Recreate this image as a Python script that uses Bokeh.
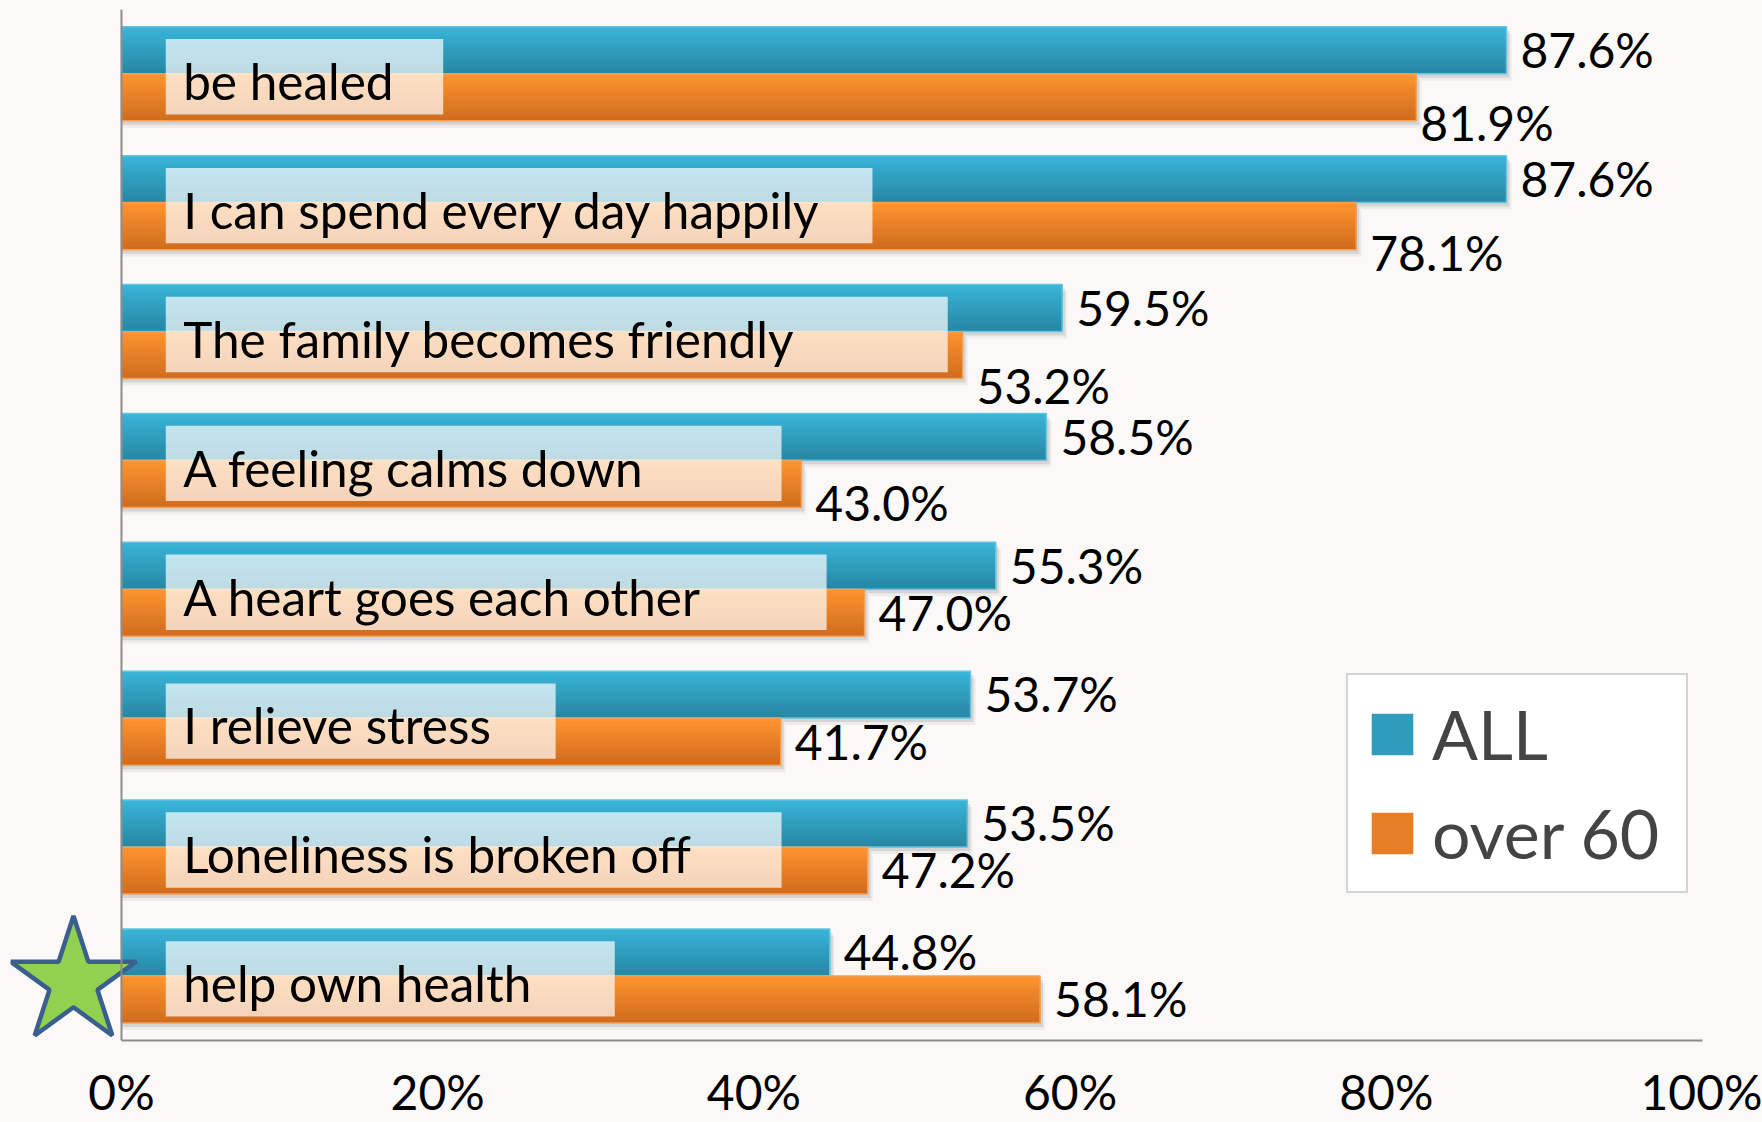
import numpy as np
from bokeh.plotting import figure
from bokeh.models import (Range1d, FixedTicker, PrintfTickFormatter, Span,
                          Legend, LegendItem, ColumnDataSource)
from bokeh.core.properties import value
from bokeh.embed import file_html
from bokeh.resources import INLINE

# ---------------- data ----------------
categories = [
    "be healed",
    "I can spend every day happily",
    "The family becomes friendly",
    "A feeling calms down",
    "A heart goes each other",
    "I relieve stress",
    "Loneliness is broken off",
    "help own health",
]
all_pct = [87.6, 87.6, 59.5, 58.5, 55.3, 53.7, 53.5, 44.8]
over60_pct = [81.9, 78.1, 53.2, 43.0, 47.0, 41.7, 47.2, 58.1]
series_names = ["ALL", "over 60"]
x_ticks = [0, 20, 40, 60, 80, 100]

# ---------------- styling / layout ----------------
label_box_end = [20.35, 47.5, 52.26, 41.75, 44.6, 27.46, 41.75, 31.2]  # % where each label panel ends
orange_label_drop_px = [26, 27, 31, 19, 0, 0, 0, 0]
orange_label_nudge_px = [-10, 0, 0, 0, 0, 0, 0, 0]

BG = "#FAF9F7"
FONT = "Lato"
CAT_FS = 49.5
VAL_FS = 48
W, H = 1762, 1122
BL, BR, BT, BB = 10, 60, 9, 80
FRAME_W = W - BL - BR
FRAME_H = H - BT - BB
X0, X1 = -7.02, 100.0
n = len(categories)
Y0, Y1 = 0.0, float(n)
PX = (X1 - X0) / FRAME_W
PY = (Y1 - Y0) / FRAME_H


def base_corr(fs):
    return 0.4 * fs


pos = np.array([n - i - 0.5 for i in range(n)])
BAR_H = 47 * PY
blue_c = pos + 23.75 * PY
orange_c = pos - 23.5 * PY
all_arr = np.array(all_pct)
o60_arr = np.array(over60_pct)

p = figure(width=W, height=H, output_backend="svg", toolbar_location=None,
           x_range=Range1d(X0, X1), y_range=Range1d(Y0, Y1),
           y_axis_location=None, min_border_left=BL, min_border_right=BR,
           min_border_top=BT, min_border_bottom=BB,
           background_fill_color=BG, border_fill_color=BG, outline_line_color=None)
p.grid.visible = False

# shadows
for c, vals in ((blue_c, all_arr), (orange_c, o60_arr)):
    for dy, dx, a in ((7, 5, 0.05), (4, 3, 0.10)):
        p.hbar(y=c - dy * PY, left=0, right=vals + dx * PX, height=BAR_H,
               fill_color="black", fill_alpha=a, line_color=None)


def hexmix(c1, c2, t):
    a = np.array([int(c1[i:i + 2], 16) for i in (1, 3, 5)])
    b = np.array([int(c2[i:i + 2], 16) for i in (1, 3, 5)])
    m = np.round(a + (b - a) * t).astype(int)
    return "#%02x%02x%02x" % tuple(m)


def gradient_bars(centers, vals, top, bottom, edge, N=16):
    mid = None
    bar_top = centers + BAR_H / 2
    bar_bot = centers - BAR_H / 2
    for k in range(N):
        t = (k + 0.5) / N
        r = p.quad(left=0, right=vals, top=bar_top - k * BAR_H / N, bottom=bar_bot,
                   fill_color=hexmix(top, bottom, t), line_color=None)
        if k == N // 2:
            mid = r
    p.hbar(y=centers, left=0, right=vals, height=BAR_H, fill_color=None,
           line_color=edge, line_width=1.5)
    return mid


r_all = gradient_bars(blue_c, all_arr, "#39b5d9", "#2686a2", "#62c4e0")
r_o60 = gradient_bars(orange_c, o60_arr, "#ff942f", "#cf6b1d", "#f5a055")

# translucent label panels
p.hbar(y=pos - 2.8 * PY, left=2.8, right=label_box_end, height=75.5 * PY,
       fill_color="white", fill_alpha=0.7, line_color=None)

# category labels
p.text(x=[3.9] * n, y=pos - (27 - base_corr(CAT_FS)) * PY, text=categories,
       text_font=value(FONT), text_font_size="%gpx" % CAT_FS,
       text_baseline="alphabetic", text_align="left", text_color="black")

# value labels
all_src = ColumnDataSource(dict(
    x=all_arr + 14 * PX, y=blue_c - (18.5 - base_corr(VAL_FS)) * PY,
    t=["%.1f%%" % v for v in all_pct]))
o60_src = ColumnDataSource(dict(
    x=o60_arr + (14 + np.array(orange_label_nudge_px)) * PX,
    y=orange_c - (18.5 - base_corr(VAL_FS) + np.array(orange_label_drop_px)) * PY,
    t=["%.1f%%" % v for v in over60_pct]))
for src in (all_src, o60_src):
    p.text(x="x", y="y", text="t", source=src, text_font=value(FONT),
           text_font_size="%gpx" % VAL_FS, text_baseline="alphabetic",
           text_align="left", text_color="black")

# y axis line
p.add_layout(Span(location=0, dimension="height", line_color="#8c8c8c", line_width=2))

# star decoration next to last category
p.scatter(x=[-48 * PX], y=[pos[-1] - 6 * PY], marker="star", size=132,
          fill_color="#92d050", line_color="#3a5f8f", line_width=4.5)

# x axis
ax = p.xaxis[0]
ax.ticker = FixedTicker(ticks=x_ticks)
ax.formatter = PrintfTickFormatter(format="%d%%")
ax.bounds = (0, 100)
ax.axis_line_color = "#8c8c8c"
ax.axis_line_width = 2
ax.major_tick_line_color = None
ax.minor_tick_line_color = None
ax.major_tick_out = 0
ax.major_tick_in = 0
ax.major_label_standoff = 22
ax.major_label_text_font = FONT
ax.major_label_text_font_size = "%gpx" % VAL_FS
ax.major_label_text_color = "black"

legend = Legend(items=[LegendItem(label=series_names[0], renderers=[r_all]),
                       LegendItem(label=series_names[1], renderers=[r_o60])],
                location=(1336, 147), orientation="vertical",
                glyph_width=52, glyph_height=52, label_standoff=14,
                label_text_font=FONT, label_text_font_size="68px",
                label_width=236, padding=18, spacing=18,
                border_line_color="#aaaaaa", border_line_width=2,
                background_fill_color="white", background_fill_alpha=1.0)
p.add_layout(legend)

html = file_html(p, INLINE)
html = html.replace("<head>", "<head><style>body{background:%s}</style>" % BG, 1)
open("out.html", "w").write(html)
